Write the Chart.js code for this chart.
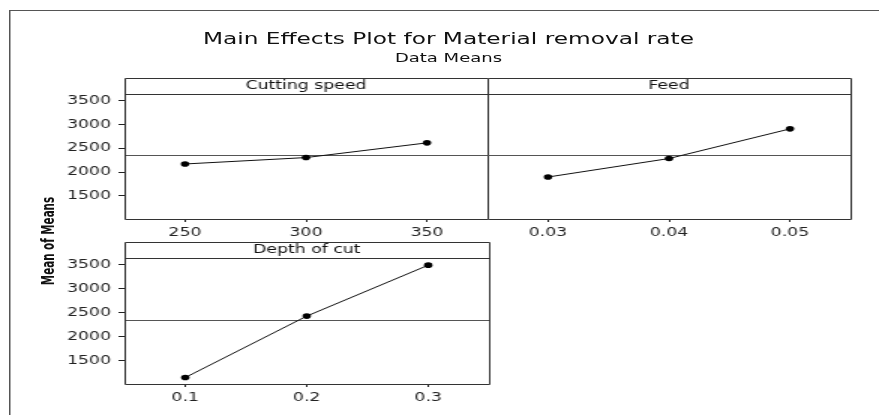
<!DOCTYPE html>
<html>
<head>
<meta charset="utf-8">
<script src="https://cdn.jsdelivr.net/npm/chart.js"></script>
<style>
  html, body { margin: 0; padding: 0; background: #fff; overflow: hidden; }
  /* the reference graph is stretched sideways, so the whole stage is drawn narrow and widened */
  #stage { position: relative; width: 586px; height: 415px; transform: scaleX(1.5); transform-origin: 0 0; }
  #stage canvas { position: absolute; }
  .frame { position: absolute; left: 6px; top: 10px; width: 700px; height: 500px;
           border-left: 1px solid #555; border-top: 1px solid #555; }
  .title { position: absolute; left: 0; width: 598px; text-align: center; color: #111;
           font-family: "DejaVu Sans", sans-serif; line-height: 1; white-space: nowrap; }
  #ytitle { position: absolute; left: -17.7px; top: 234px; width: 100px; text-align: center;
            font: bold 11.5px "Liberation Sans Narrow", "DejaVu Sans Condensed", sans-serif;
            line-height: 14px; color: #111; transform: rotate(-90deg); white-space: nowrap; }
</style>
</head>
<body>
<div id="stage">
  <div class="frame"></div>
  <div class="title" style="top:31.5px;font-size:15.5px;">Main Effects Plot for Material removal rate</div>
  <div class="title" style="top:51.5px;font-size:12px;">Data Means</div>
  <div id="ytitle">Mean of Means</div>
  <canvas id="c1" width="330" height="175" style="left:0;top:70px;"></canvas>
  <canvas id="c2" width="266" height="175" style="left:320px;top:70px;"></canvas>
  <canvas id="c3" width="330" height="176" style="left:0;top:234px;"></canvas>
</div>
<script>
// factor levels and means
const cuttingSpeedLevels = ["250", "300", "350"];
const cuttingSpeedMeans = [2170, 2305, 2615];
const feedLevels = ["0.03", "0.04", "0.05"];
const feedMeans = [1895, 2285, 2910];
const depthLevels = ["0.1", "0.2", "0.3"];
const depthMeans = [1145, 2430, 3495];
const grandMean = 2357;
const yTickValues = [1500, 2000, 2500, 3000, 3500];
const yAxisMin = 1010;
const yAxisMax = 3645;

const ink = "#222";
const tickFont = { family: "DejaVu Sans", size: 11.5 };

// box, header strip and reference line of each panel
const panelFrame = {
  id: "panelFrame",
  beforeDatasetsDraw(chart, args, opts) {
    const { ctx, chartArea: a } = chart;
    const y = Math.round(chart.scales.y.getPixelForValue(opts.mean)) + 0.5;
    ctx.save();
    ctx.strokeStyle = "#555";
    ctx.lineWidth = 1;
    ctx.beginPath();
    ctx.moveTo(a.left, y);
    ctx.lineTo(a.right, y);
    ctx.stroke();
    ctx.restore();
  },
  afterDraw(chart, args, opts) {
    const { ctx, chartArea: a } = chart;
    const top = a.top - 16;
    const l = a.left + 0.5, r = a.right + 0.5, t = top + 0.5, b = a.bottom + 0.5;
    ctx.save();
    ctx.strokeStyle = "#333";
    ctx.lineWidth = 1;
    ctx.beginPath();
    // the right-hand panel shares its left edge with the panel beside it
    ctx.moveTo(l, t);
    ctx.lineTo(r, t);
    ctx.lineTo(r, b);
    ctx.lineTo(l, b);
    if (!opts.sharedLeft) ctx.lineTo(l, t);
    ctx.moveTo(a.left, a.top + 0.5);
    ctx.lineTo(a.right, a.top + 0.5);
    ctx.stroke();
    ctx.fillStyle = "#111";
    ctx.font = "11.5px 'DejaVu Sans'";
    ctx.textAlign = "center";
    ctx.textBaseline = "middle";
    ctx.fillText(opts.label, (a.left + a.right) / 2, top + 8.5);
    ctx.restore();
  }
};

function makePanel(id, label, levels, means, padding, showY) {
  return new Chart(document.getElementById(id), {
    type: "line",
    data: {
      labels: levels,
      datasets: [{
        data: means,
        borderColor: "#111",
        borderWidth: 1,
        tension: 0,
        pointRadius: 2.8,
        pointBorderWidth: 0,
        pointBackgroundColor: "#000"
      }]
    },
    options: {
      responsive: false,
      animation: false,
      devicePixelRatio: 1,
      layout: { padding: padding },
      plugins: {
        legend: { display: false },
        tooltip: { enabled: false },
        panelFrame: { label: label, mean: grandMean, sharedLeft: !showY }
      },
      scales: {
        x: {
          type: "category",
          offset: true,
          afterFit: s => { s.height = 26; },
          border: { display: false },
          grid: { drawOnChartArea: false, tickLength: 3, color: ink },
          ticks: { padding: 4, color: ink, font: tickFont, maxRotation: 0 }
        },
        y: {
          display: true,
          min: yAxisMin,
          max: yAxisMax,
          afterBuildTicks: s => { s.ticks = yTickValues.map(v => ({ value: v })); },
          afterFit: s => { s.width = showY ? 83 : 0; },
          border: { display: false },
          grid: { drawOnChartArea: false, drawTicks: showY, tickLength: 4, color: ink },
          ticks: { display: showY, padding: 5, color: ink, font: tickFont,
                   callback: v => String(v) }
        }
      }
    },
    plugins: [panelFrame]
  });
}

makePanel("c1", "Cutting speed", cuttingSpeedLevels, cuttingSpeedMeans,
  { top: 24, right: 5, left: 0, bottom: 0 }, true);
makePanel("c2", "Feed", feedLevels, feedMeans,
  { top: 24, right: 19, left: 5, bottom: 0 }, false);
makePanel("c3", "Depth of cut", depthLevels, depthMeans,
  { top: 24, right: 4, left: 0, bottom: 0 }, true);
</script>
</body>
</html>
